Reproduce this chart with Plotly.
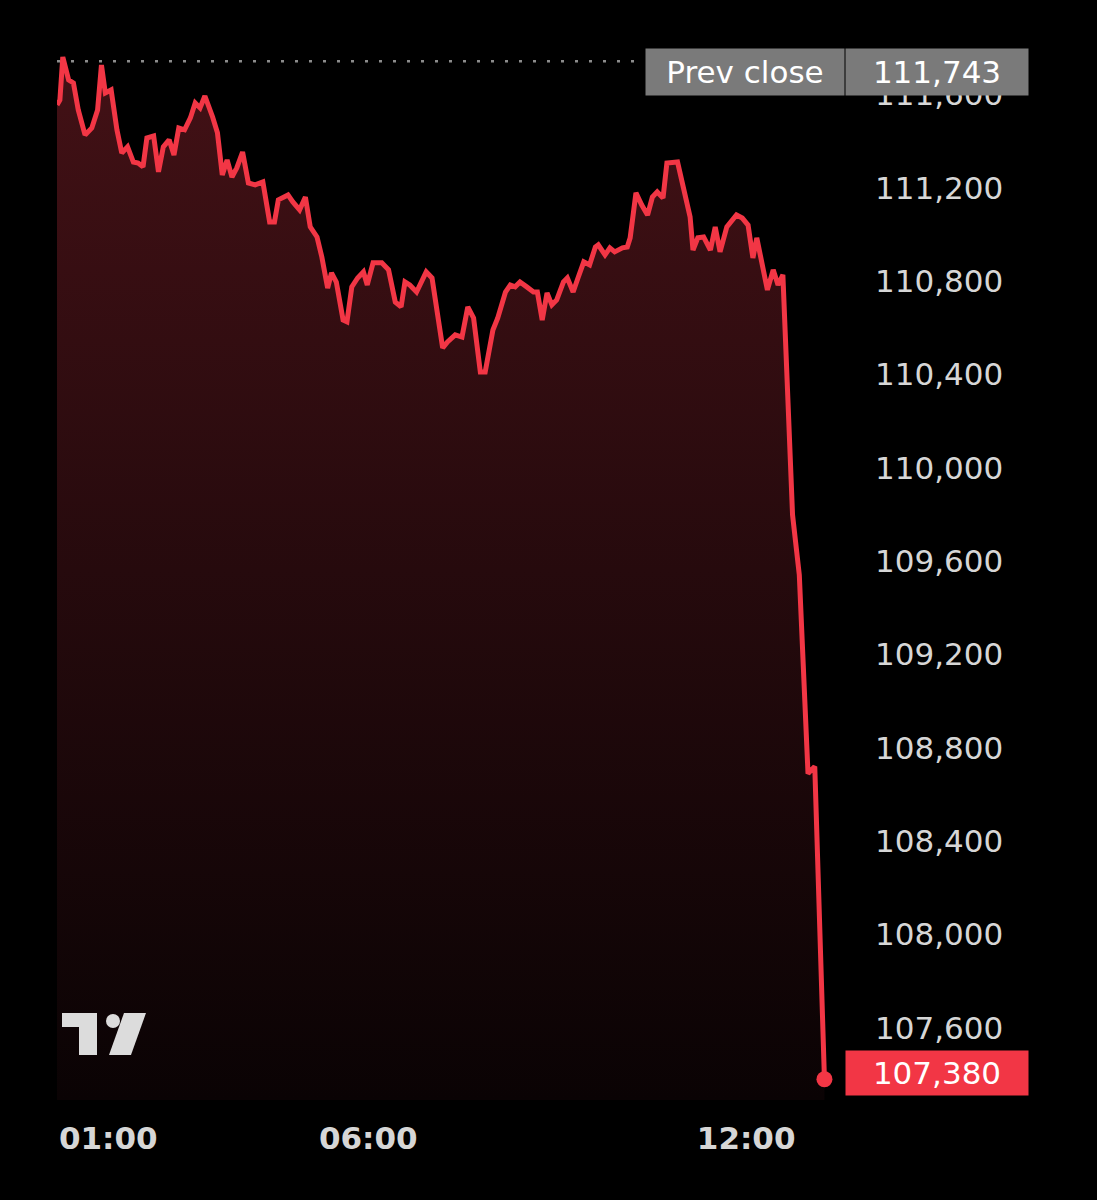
import plotly.graph_objects as go

# ---- data (minutes since 00:00, price) ----
time_min = [7, 10, 13, 19, 24, 29, 36, 43, 49, 53, 57, 63, 69, 74, 80, 86, 91, 96, 100, 107,
            112, 117, 123, 128, 133, 139, 145, 150, 155, 160, 168, 173, 178, 183, 188, 193, 199, 205, 212, 220,
            227, 232, 236, 246, 251, 258, 264, 269, 276, 281, 287, 291, 296, 303, 307, 312, 318, 324, 328, 334,
            339, 343, 350, 357, 363, 367, 372, 379, 389, 395, 406, 411, 419, 426, 432, 438, 445, 450, 458, 463,
            471, 476, 481, 486, 493, 500, 504, 509, 514, 519, 524, 531, 535, 541, 546, 552, 558, 564, 567, 574,
            579, 584, 592, 597, 600, 606, 612, 618, 623, 628, 634, 638, 649, 655, 662, 665, 670, 676, 683, 688,
            693, 700, 710, 716, 722, 727, 731, 742, 748, 753, 758, 768, 775, 784, 791, 801]
price = [111556, 111577, 111761, 111663, 111650, 111534, 111427, 111457, 111534, 111727, 111607, 111620, 111449, 111350, 111376, 111311, 111307, 111290, 111414, 111423,
         111269, 111376, 111406, 111341, 111457, 111449, 111500, 111564, 111543, 111594, 111504, 111436, 111256, 111320, 111247, 111286, 111354, 111221, 111213, 111226,
         111054, 111054, 111149, 111170, 111140, 111106, 111161, 111033, 110990, 110904, 110771, 110836, 110797, 110634, 110626, 110776, 110814, 110840, 110784, 110879,
         110879, 110879, 110849, 110711, 110690, 110797, 110784, 110754, 110840, 110814, 110514, 110540, 110570, 110561, 110690, 110643, 110411, 110411, 110591, 110643,
         110754, 110784, 110776, 110797, 110776, 110754, 110754, 110634, 110750, 110699, 110720, 110797, 110814, 110754, 110814, 110883, 110870, 110947, 110956, 110913,
         110943, 110926, 110943, 110947, 110986, 111179, 111127, 111084, 111161, 111183, 111157, 111307, 111311, 111204, 111076, 110934, 110986, 110990, 110934, 111033,
         110926, 111033, 111084, 111071, 111041, 110900, 110986, 110763, 110849, 110784, 110827, 109799, 109541, 108690, 108720, 107380]

prev_close = 111743
last_price = 107380
y_ticks = [107600, 108000, 108400, 108800, 109200, 109600, 110000, 110400, 110800, 111200, 111600]
x_tick_vals = [60, 329, 720]
x_tick_text = ["01:00", "06:00", "12:00"]

RED = "#F23645"
GREY_TXT = "#d6d6d6"
FONT = "DejaVu Sans"

# layout geometry (pixels)
W, H = 1097, 1200
L, R, T, B = 57, 866, 40, 1100

def px(xpix):
    return (xpix - L) / (R - L)

def py(ypix):
    return (B - ypix) / (B - T)

fig = go.Figure()
fig.add_trace(go.Scatter(
    x=time_min, y=price, mode="lines",
    line=dict(color=RED, width=5),
    fill="tozeroy",
    fillgradient=dict(type="vertical",
                      colorscale=[[0, "rgb(10,3,4)"], [0.5, "rgb(38,10,13)"], [1, "rgb(68,17,22)"]],
                      start=107291, stop=111834),
    hoverinfo="skip", showlegend=False))
fig.add_trace(go.Scatter(
    x=[time_min[-1]], y=[price[-1]], mode="markers",
    marker=dict(color=RED, size=16), hoverinfo="skip", showlegend=False))

fig.update_layout(
    width=W, height=H,
    margin=dict(l=L, r=W - R, t=T, b=H - B),
    paper_bgcolor="black", plot_bgcolor="black",
    xaxis=dict(range=[7, 844], showgrid=False, zeroline=False, showline=False,
               tickvals=x_tick_vals, ticktext=x_tick_text, ticks="",
               ticklabelstandoff=17,
               tickfont=dict(family=FONT, size=31, color=GREY_TXT, weight="bold")),
    yaxis=dict(range=[107291, 111834], side="right", showgrid=False, zeroline=False,
               showline=False, tickvals=y_ticks, tickformat=",d", ticks="",
               ticklabelstandoff=8,
               tickfont=dict(family=FONT, size=31, color=GREY_TXT)),
)

# prev close dotted line
fig.add_shape(type="line", xref="paper", yref="y", x0=0, x1=px(640),
              y0=prev_close, y1=prev_close,
              line=dict(color="#8c8c8c", width=2.5, dash="3px,11px"))

# Prev close label boxes
fig.add_annotation(xref="paper", yref="paper", x=px(645), y=py(48), xanchor="left", yanchor="top",
                   text="Prev close", showarrow=False, bgcolor="#7a7a7a", width=198, height=46,
                   borderpad=0, align="center", font=dict(family=FONT, size=31, color="white"))
fig.add_annotation(xref="paper", yref="paper", x=px(845), y=py(48), xanchor="left", yanchor="top",
                   text=f"{prev_close:,}", showarrow=False, bgcolor="#7a7a7a", width=182, height=46,
                   borderpad=0, align="center", font=dict(family=FONT, size=31, color="white"))
# last price label
fig.add_annotation(xref="paper", yref="paper", x=px(845), y=py(1050), xanchor="left", yanchor="top",
                   text=f"{last_price:,}", showarrow=False, bgcolor=RED, width=182, height=44,
                   borderpad=0, align="center", font=dict(family=FONT, size=31, color="white"))

# TradingView-style logo
def path(pts):
    return "M " + " L ".join(f"{px(a):.5f},{py(b):.5f}" for a, b in pts) + " Z"

logo_col = "#dcdcdc"
fig.add_shape(type="path", xref="paper", yref="paper",
              path=path([(62, 1013), (97, 1013), (97, 1055), (79, 1055), (79, 1027), (62, 1027)]),
              fillcolor=logo_col, line=dict(width=0))
fig.add_shape(type="circle", xref="paper", yref="paper",
              x0=px(106), x1=px(120), y0=py(1028), y1=py(1014),
              fillcolor=logo_col, line=dict(width=0))
fig.add_shape(type="path", xref="paper", yref="paper",
              path=path([(124, 1013), (146, 1013), (131, 1055), (109, 1055)]),
              fillcolor=logo_col, line=dict(width=0))

fig.write_html("out.html", config={"displayModeBar": False},
               post_script="document.body.style.margin='0';document.body.style.background='black';")
